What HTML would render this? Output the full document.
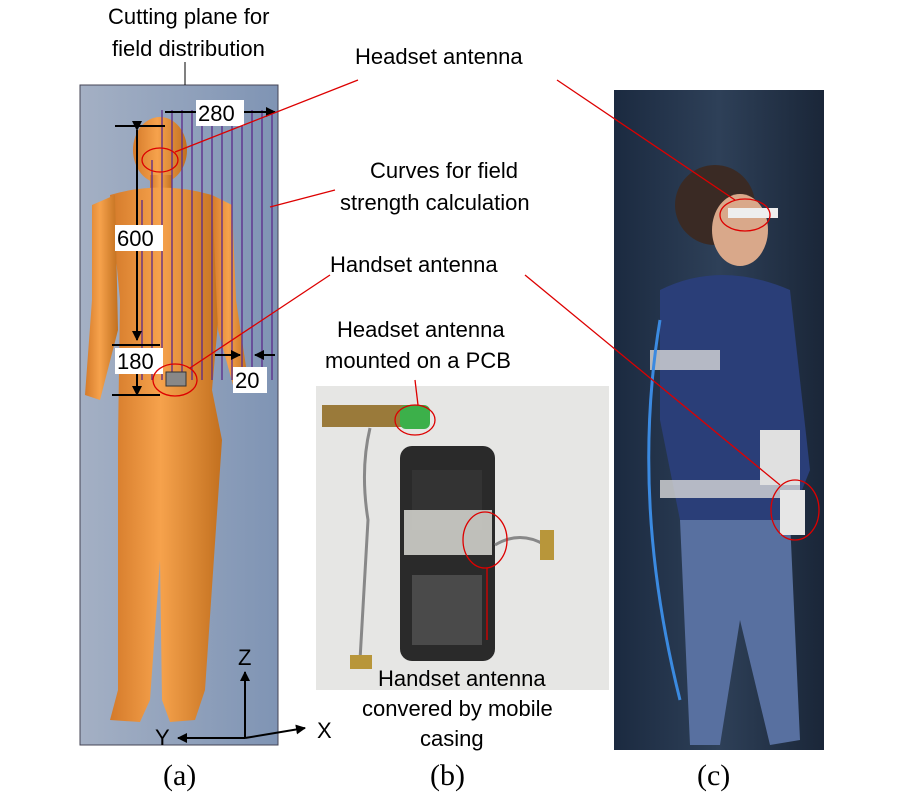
<!DOCTYPE html>
<html><head><meta charset="utf-8"><style>
html,body{margin:0;padding:0;background:#fff;}
svg{display:block}
text{font-family:"Liberation Sans",sans-serif;font-size:22px;fill:#000}
.s{font-family:"Liberation Serif",serif;font-size:30px}
</style></head><body>
<svg width="900" height="800" viewBox="0 0 900 800">
<defs>
<linearGradient id="bg" x1="0" x2="1"><stop offset="0" stop-color="#a4b0c4"/><stop offset="1" stop-color="#7f94b4"/></linearGradient>
<linearGradient id="body" x1="0" x2="1"><stop offset="0" stop-color="#d47a2a"/><stop offset="0.45" stop-color="#f6a24c"/><stop offset="1" stop-color="#c2701f"/></linearGradient>
<linearGradient id="pc" x1="0" x2="1"><stop offset="0" stop-color="#1b2a40"/><stop offset="0.5" stop-color="#2e4058"/><stop offset="1" stop-color="#1a2638"/></linearGradient>
<marker id="ar" markerWidth="10" markerHeight="10" refX="9" refY="5" orient="auto" markerUnits="userSpaceOnUse"><path d="M0 0 L10 5 L0 10 Z" fill="#000"/></marker>
</defs>
<!-- panel a -->
<rect x="80" y="85" width="198" height="660" fill="url(#bg)" stroke="#445" stroke-width="1"/>
<g fill="url(#body)">
<ellipse cx="160" cy="150" rx="27" ry="33"/>
<rect x="150" y="175" width="22" height="20"/>
<path d="M110 195 Q160 180 212 195 L220 300 L212 390 L222 440 L205 690 L195 720 L170 722 L162 700 L160 560 L150 700 L140 722 L110 720 L118 690 L118 440 L120 300 Z"/>
<path d="M92 205 L115 195 L118 330 L100 400 L85 395 L92 300 Z"/>
<path d="M212 195 L232 205 L236 300 L248 380 L233 385 L218 330 Z"/>
</g>
<g stroke="#5a2a8a" stroke-width="1.3">
<line x1="172" y1="110" x2="172" y2="380"/><line x1="182" y1="110" x2="182" y2="380"/><line x1="192" y1="110" x2="192" y2="380"/><line x1="202" y1="110" x2="202" y2="380"/><line x1="212" y1="110" x2="212" y2="380"/><line x1="222" y1="110" x2="222" y2="380"/><line x1="232" y1="110" x2="232" y2="380"/><line x1="242" y1="110" x2="242" y2="380"/><line x1="252" y1="110" x2="252" y2="380"/><line x1="262" y1="110" x2="262" y2="380"/><line x1="272" y1="110" x2="272" y2="380"/>
<line x1="162" y1="110" x2="162" y2="380"/><line x1="152" y1="160" x2="152" y2="380"/><line x1="142" y1="200" x2="142" y2="380"/>
</g>
<rect x="166" y="372" width="20" height="14" fill="#888" stroke="#333"/>
<g stroke="#000" stroke-width="2" fill="none">
<line x1="115" y1="126" x2="165" y2="126"/>
<line x1="137" y1="130" x2="137" y2="340" marker-end="url(#ar)" marker-start="url(#ar)"/>
<line x1="137" y1="365" x2="137" y2="395" marker-end="url(#ar)"/>
<line x1="200" y1="112" x2="275" y2="112" marker-end="url(#ar)"/><line x1="165" y1="112" x2="200" y2="112"/>
<line x1="112" y1="345" x2="160" y2="345"/>
<line x1="112" y1="395" x2="160" y2="395"/>
<line x1="215" y1="355" x2="240" y2="355" marker-end="url(#ar)"/><line x1="275" y1="355" x2="255" y2="355" marker-end="url(#ar)"/>
<line x1="245" y1="738" x2="245" y2="672" marker-end="url(#ar)"/><line x1="245" y1="738" x2="178" y2="738" marker-end="url(#ar)"/><line x1="245" y1="738" x2="305" y2="728" marker-end="url(#ar)"/>
</g>
<rect x="196" y="100" width="48" height="26" fill="#fff"/><text x="198" y="121">280</text>
<rect x="115" y="225" width="48" height="26" fill="#fff"/><text x="117" y="246">600</text>
<rect x="115" y="348" width="48" height="26" fill="#fff"/><text x="117" y="369">180</text>
<rect x="233" y="367" width="34" height="26" fill="#fff"/><text x="235" y="388">20</text>
<text x="238" y="665">Z</text><text x="155" y="745">Y</text><text x="317" y="738">X</text>
<!-- panel b -->
<rect x="316" y="386" width="293" height="304" fill="#e6e6e4"/>
<rect x="322" y="405" width="100" height="22" fill="#9a7a3a"/>
<rect x="400" y="405" width="30" height="24" rx="6" fill="#3cb04a"/>
<path d="M370 428 Q360 470 368 520 L360 660" stroke="#888" stroke-width="3" fill="none"/>
<rect x="350" y="655" width="22" height="14" fill="#b8963a"/>
<rect x="400" y="446" width="95" height="215" rx="12" fill="#2a2a2a"/>
<rect x="412" y="470" width="70" height="60" fill="#333"/>
<rect x="404" y="510" width="88" height="45" fill="#cfcfca" opacity="0.9"/>
<rect x="412" y="575" width="70" height="70" fill="#4a4a4a"/>
<path d="M495 545 Q520 530 545 545" stroke="#888" stroke-width="3" fill="none"/>
<rect x="540" y="530" width="14" height="30" fill="#b8963a"/>
<!-- panel c -->
<rect x="614" y="90" width="210" height="660" fill="url(#pc)"/>
<ellipse cx="715" cy="205" rx="40" ry="40" fill="#3a2a24"/>
<ellipse cx="740" cy="230" rx="28" ry="36" fill="#d9a88a"/>
<path d="M660 290 Q720 260 790 290 L810 470 L790 520 L680 520 L660 420 Z" fill="#2a3e78"/>
<path d="M680 520 L790 520 L800 740 L770 745 L740 620 L720 745 L690 745 Z" fill="#5870a0"/>
<rect x="650" y="350" width="70" height="20" fill="#d8d8d8" opacity="0.8"/>
<rect x="660" y="480" width="140" height="18" fill="#d8d8d8" opacity="0.8"/>
<rect x="760" y="430" width="40" height="55" fill="#e0e0e0"/>
<rect x="780" y="490" width="25" height="45" fill="#e6e6e6"/>
<path d="M660 320 Q630 500 680 700" stroke="#3b8ae0" stroke-width="3" fill="none"/>
<rect x="728" y="208" width="50" height="10" fill="#eee"/>
<!-- red annotations on top -->
<g fill="none" stroke="#d00" stroke-width="1.3">
<ellipse cx="160" cy="160" rx="18" ry="12"/><ellipse cx="175" cy="380" rx="22" ry="16"/>
<line x1="175" y1="152" x2="358" y2="80"/><line x1="190" y1="368" x2="330" y2="275"/>
<line x1="270" y1="207" x2="335" y2="190"/>
<ellipse cx="415" cy="420" rx="20" ry="15"/><ellipse cx="485" cy="540" rx="22" ry="28"/>
<line x1="418" y1="405" x2="415" y2="380"/><line x1="487" y1="568" x2="487" y2="640"/>
<ellipse cx="745" cy="215" rx="25" ry="16"/><ellipse cx="795" cy="510" rx="24" ry="30"/>
<line x1="735" y1="200" x2="557" y2="80"/><line x1="780" y1="485" x2="525" y2="275"/>
</g>
<!-- labels -->
<text x="108" y="24">Cutting plane for</text><text x="112" y="56">field distribution</text>
<line x1="185" y1="62" x2="185" y2="85" stroke="#000"/>
<text x="355" y="64">Headset antenna</text>
<text x="370" y="178">Curves for field</text><text x="340" y="210">strength calculation</text>
<text x="330" y="272">Handset antenna</text>
<text x="337" y="337">Headset antenna</text><text x="325" y="368">mounted on a PCB</text>
<text x="378" y="686">Handset antenna</text><text x="362" y="716">convered by mobile</text><text x="420" y="746">casing</text>
<text class="s" x="163" y="785">(a)</text><text class="s" x="430" y="785">(b)</text><text class="s" x="697" y="785">(c)</text>
</svg>
</body></html>
